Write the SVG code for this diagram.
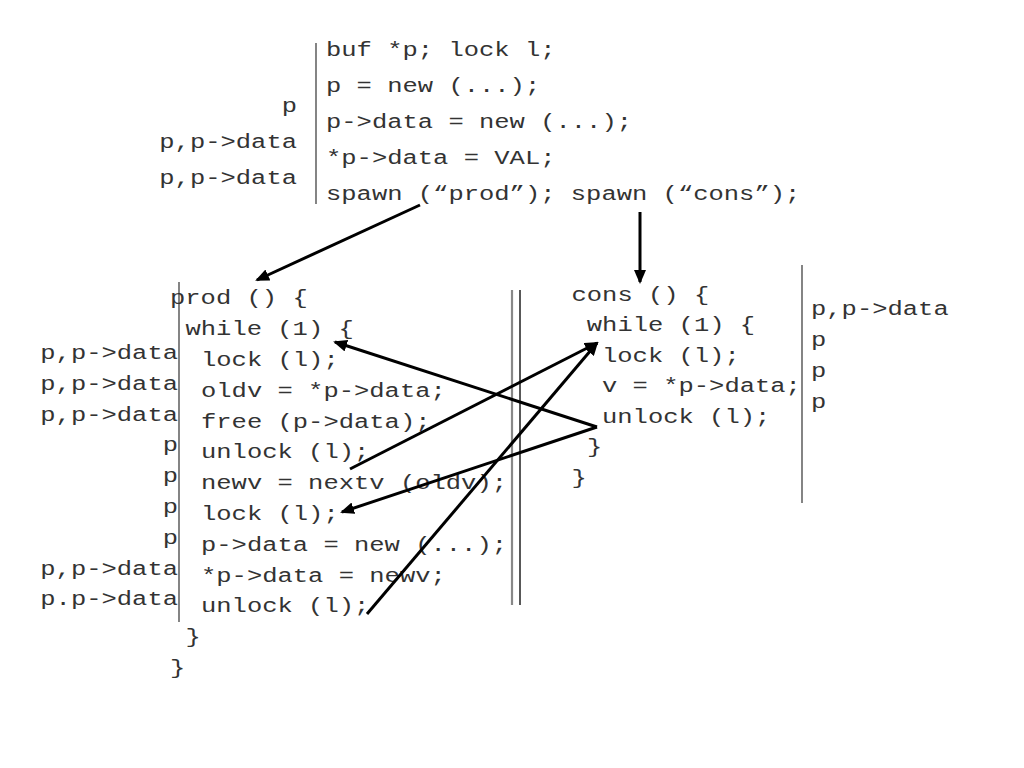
<svg xmlns="http://www.w3.org/2000/svg" width="1024" height="768" viewBox="0 0 1024 768">
<style>
text{font-family:"Liberation Mono","Courier New",monospace;font-size:20px;fill:#333}
.r{text-anchor:end}
.bar{stroke:#666;stroke-width:1.6;fill:none}
.conn{stroke:#000;stroke-width:3;fill:none;marker-end:url(#ah)}
</style>
<defs>
<marker id="ah" markerUnits="userSpaceOnUse" viewBox="0 0 14 12" markerWidth="14" markerHeight="12" refX="12" refY="6" orient="auto">
<path d="M0,0 L14,6 L0,12 Z" fill="#000"/>
</marker>
</defs>
<rect width="1024" height="768" fill="#fff"/>
<g id="main">
<line class="bar" x1="316" y1="43" x2="316" y2="204"/>
<text x="326" y="56" textLength="229.5" lengthAdjust="spacingAndGlyphs">buf *p; lock l;</text>
<text x="326" y="92" textLength="214.2" lengthAdjust="spacingAndGlyphs">p = new (...);</text>
<text x="326" y="128" textLength="306" lengthAdjust="spacingAndGlyphs">p-&gt;data = new (...);</text>
<text x="326" y="164" textLength="229.5" lengthAdjust="spacingAndGlyphs">*p-&gt;data = VAL;</text>
<text x="326" y="200" textLength="474.3" lengthAdjust="spacingAndGlyphs">spawn (“prod”); spawn (“cons”);</text>
<text class="r" x="297" y="112" textLength="15.3" lengthAdjust="spacingAndGlyphs">p</text>
<text class="r" x="297" y="148" textLength="137.7" lengthAdjust="spacingAndGlyphs">p,p-&gt;data</text>
<text class="r" x="297" y="184" textLength="137.7" lengthAdjust="spacingAndGlyphs">p,p-&gt;data</text>
</g>
<g id="prod">
<line class="bar" x1="179" y1="282" x2="179" y2="622"/>
<text x="170" y="304.4" textLength="137.7" lengthAdjust="spacingAndGlyphs">prod () {</text>
<text x="185.5" y="335.2" textLength="168.3" lengthAdjust="spacingAndGlyphs">while (1) {</text>
<text x="201" y="366" textLength="137.7" lengthAdjust="spacingAndGlyphs">lock (l);</text>
<text x="201" y="396.8" textLength="244.8" lengthAdjust="spacingAndGlyphs">oldv = *p-&gt;data;</text>
<text x="201" y="427.6" textLength="229.5" lengthAdjust="spacingAndGlyphs">free (p-&gt;data);</text>
<text x="201" y="458.4" textLength="168.3" lengthAdjust="spacingAndGlyphs">unlock (l);</text>
<text x="201" y="489.2" textLength="306" lengthAdjust="spacingAndGlyphs">newv = nextv (oldv);</text>
<text x="201" y="520" textLength="137.7" lengthAdjust="spacingAndGlyphs">lock (l);</text>
<text x="201" y="550.8" textLength="306" lengthAdjust="spacingAndGlyphs">p-&gt;data = new (...);</text>
<text x="201" y="581.6" textLength="244.8" lengthAdjust="spacingAndGlyphs">*p-&gt;data = newv;</text>
<text x="201" y="612.4" textLength="168.3" lengthAdjust="spacingAndGlyphs">unlock (l);</text>
<text x="185.5" y="643.2" textLength="15.3" lengthAdjust="spacingAndGlyphs">}</text>
<text x="170" y="674" textLength="15.3" lengthAdjust="spacingAndGlyphs">}</text>
<text class="r" x="178" y="359" textLength="137.7" lengthAdjust="spacingAndGlyphs">p,p-&gt;data</text>
<text class="r" x="178" y="389.8" textLength="137.7" lengthAdjust="spacingAndGlyphs">p,p-&gt;data</text>
<text class="r" x="178" y="420.6" textLength="137.7" lengthAdjust="spacingAndGlyphs">p,p-&gt;data</text>
<text class="r" x="178" y="451.4" textLength="15.3" lengthAdjust="spacingAndGlyphs">p</text>
<text class="r" x="178" y="482.2" textLength="15.3" lengthAdjust="spacingAndGlyphs">p</text>
<text class="r" x="178" y="513" textLength="15.3" lengthAdjust="spacingAndGlyphs">p</text>
<text class="r" x="178" y="543.8" textLength="15.3" lengthAdjust="spacingAndGlyphs">p</text>
<text class="r" x="178" y="574.6" textLength="137.7" lengthAdjust="spacingAndGlyphs">p,p-&gt;data</text>
<text class="r" x="178" y="605.4" textLength="137.7" lengthAdjust="spacingAndGlyphs">p.p-&gt;data</text>
</g>
<g id="divider">
<line x1="512" y1="290" x2="512" y2="605" stroke="#888" stroke-width="2.2"/>
<line x1="520" y1="290" x2="520" y2="605" stroke="#111" stroke-width="1.4"/>
</g>
<g id="cons">
<text x="571.5" y="300.5" textLength="137.7" lengthAdjust="spacingAndGlyphs">cons () {</text>
<text x="586.8" y="331" textLength="168.3" lengthAdjust="spacingAndGlyphs">while (1) {</text>
<text x="602" y="361.5" textLength="137.7" lengthAdjust="spacingAndGlyphs">lock (l);</text>
<text x="602" y="392" textLength="198.9" lengthAdjust="spacingAndGlyphs">v = *p-&gt;data;</text>
<text x="602" y="422.5" textLength="168.3" lengthAdjust="spacingAndGlyphs">unlock (l);</text>
<text x="587" y="453" textLength="15.3" lengthAdjust="spacingAndGlyphs">}</text>
<text x="571.5" y="483.5" textLength="15.3" lengthAdjust="spacingAndGlyphs">}</text>
<line class="bar" x1="802" y1="265" x2="802" y2="503"/>
<text x="811" y="315" textLength="137.7" lengthAdjust="spacingAndGlyphs">p,p-&gt;data</text>
<text x="811" y="346" textLength="15.3" lengthAdjust="spacingAndGlyphs">p</text>
<text x="811" y="377" textLength="15.3" lengthAdjust="spacingAndGlyphs">p</text>
<text x="811" y="408" textLength="15.3" lengthAdjust="spacingAndGlyphs">p</text>
</g>
<g id="connectors">
<line class="conn" x1="420" y1="205" x2="257" y2="280"/>
<line class="conn" x1="640" y1="212" x2="640" y2="282"/>
<line class="conn" x1="597" y1="427" x2="335" y2="342"/>
<line class="conn" x1="597" y1="427" x2="342" y2="512"/>
<line class="conn" x1="350" y1="469" x2="597" y2="343"/>
<line class="conn" x1="367" y1="614" x2="597" y2="343"/>
</g>
</svg>
